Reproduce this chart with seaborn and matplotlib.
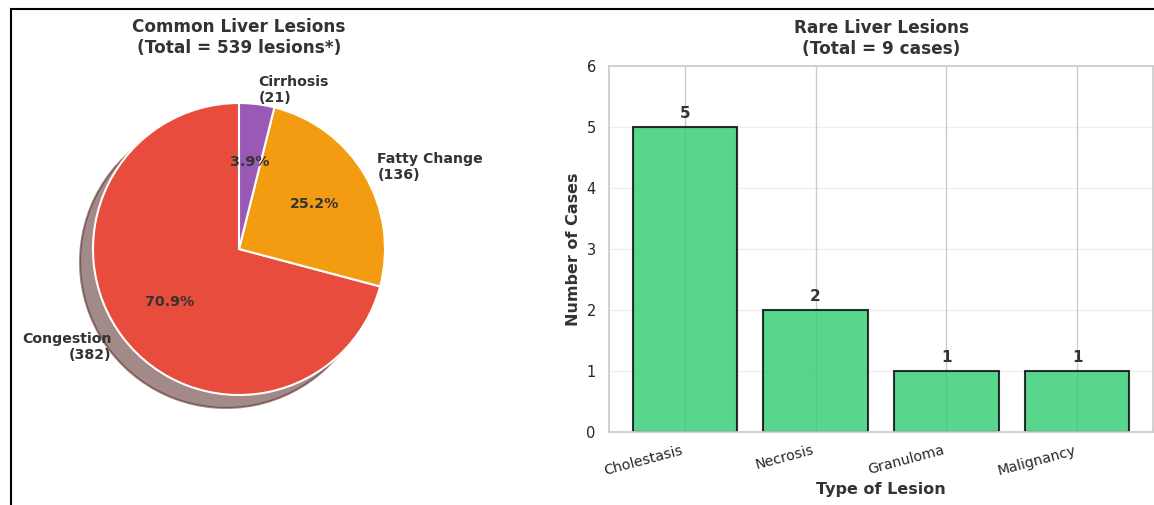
import matplotlib
matplotlib.use("Agg")
import matplotlib.pyplot as plt
from matplotlib.patches import Rectangle
import seaborn as sns

# Common lesions (pie)
common_labels = ["Congestion", "Fatty Change", "Cirrhosis"]
common_counts = [382, 136, 21]
common_colors = ["#e74c3c", "#f39c12", "#9b59b6"]

# Rare lesions (bars)
rare_labels = ["Cholestasis", "Necrosis", "Granuloma", "Malignancy"]
rare_counts = [5, 2, 1, 1]
bar_color = "#2ecc71"

sns.set_theme(style="whitegrid")
plt.rcParams["font.family"] = ["DejaVu Sans"]

W, H = 1154, 505
fig = plt.figure(figsize=(W / 100, H / 100), dpi=100)

# ---- Pie of common lesions ----
R = 146.0
cx, cy = 239.0, 505 - 249.0
x0, x1, y0, y1 = -1.6, 1.6, -1.6, 1.315
ax1 = fig.add_axes([(cx + x0 * R) / W, (cy + y0 * R) / H,
                    (x1 - x0) * R / W, (y1 - y0) * R / H])
pie_labels = [f"{n}\n({c})" for n, c in zip(common_labels, common_counts)]
wedges, texts, autotexts = ax1.pie(
    common_counts, labels=pie_labels, colors=common_colors,
    autopct="%1.1f%%", startangle=90,
    shadow={"ox": -0.064, "oy": -0.064},
    wedgeprops={"edgecolor": "white", "linewidth": 1.5},
    textprops={"fontsize": 10.2, "fontweight": "bold", "color": "#333333"},
)
ax1.set_xlim(x0, x1)
ax1.set_ylim(y0, y1)
ax1.set_aspect("auto")
ax1.set_title(f"Common Liver Lesions\n(Total = {sum(common_counts)} lesions*)",
              fontsize=12.2, fontweight="bold", color="#333333", pad=2.5)

# ---- Bars of rare lesions ----
ax2 = fig.add_axes([609 / W, (505 - 432) / H, 544 / W, 366 / H])
sns.barplot(x=rare_labels, y=rare_counts, color=bar_color, saturation=1,
            alpha=0.8, edgecolor="black", linewidth=1.5, width=0.8, ax=ax2)
for i, v in enumerate(rare_counts):
    ax2.text(i, v + 0.1, f"{v}", ha="center", va="bottom",
             fontsize=11, fontweight="bold", color="#333333")
ax2.set_ylim(0, 6)
ax2.set_xlim(-0.58, 3.58)
ax2.set_title(f"Rare Liver Lesions\n(Total = {sum(rare_counts)} cases)",
              fontsize=12.2, fontweight="bold", color="#333333", pad=9)
ax2.set_xlabel("Type of Lesion", fontsize=11.5, fontweight="bold",
               color="#333333", labelpad=3)
ax2.set_ylabel("Number of Cases", fontsize=11.5, fontweight="bold", color="#333333")
ax2.tick_params(axis="x", labelsize=10.2, rotation=15, pad=2)
ax2.tick_params(axis="y", labelsize=10.5)
for lbl in ax2.get_xticklabels():
    lbl.set_ha("right")
ax2.xaxis.grid(True)
ax2.yaxis.grid(True, alpha=0.3)
ax2.set_axisbelow(True)

# Figure frame
fig.patches.append(Rectangle((10.5 / W, -0.2), 2.0, (505 - 9) / H + 0.2,
                             transform=fig.transFigure, fill=False,
                             edgecolor="black", linewidth=1.5, zorder=10))

fig.savefig("out.png", dpi=100)
